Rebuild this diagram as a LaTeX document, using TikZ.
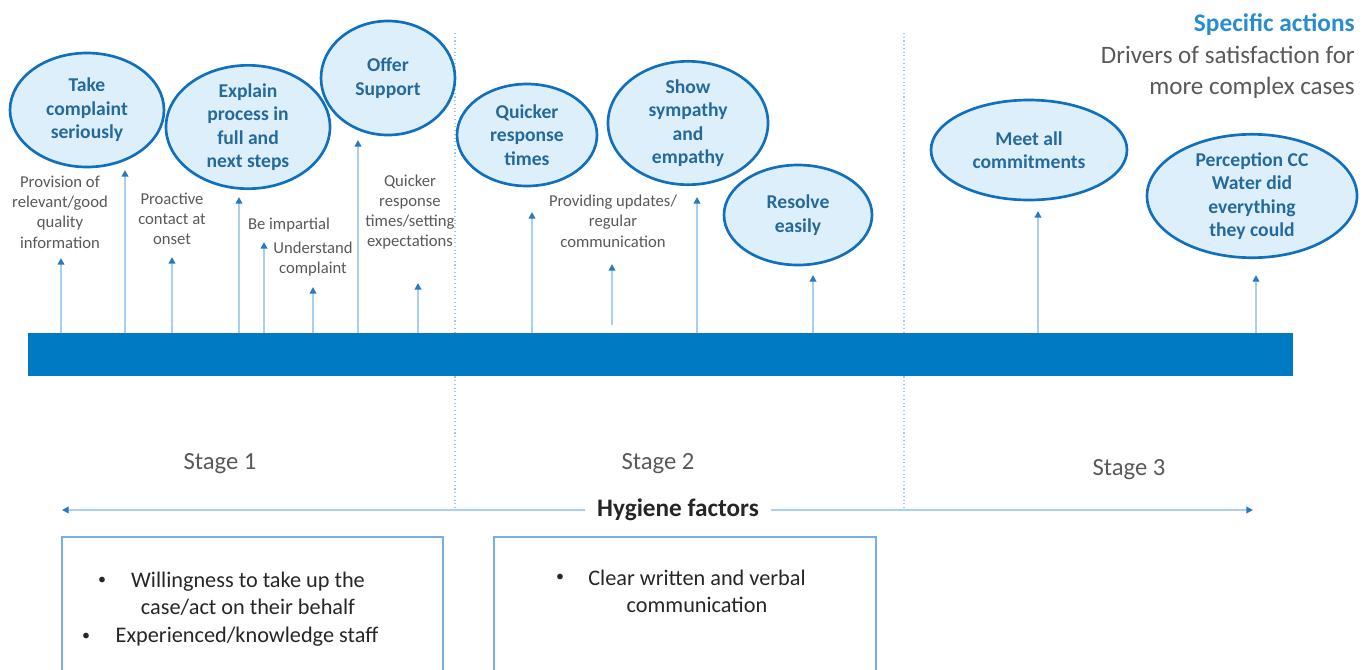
\documentclass[tikz,border=0pt]{standalone}
\usepackage{fontspec}
\setmainfont{Carlito}
\usetikzlibrary{shapes.geometric,arrows.meta}
\definecolor{barblue}{RGB}{0,123,195}
\definecolor{ringblue}{RGB}{16,112,190}
\definecolor{ellfill}{RGB}{222,239,252}
\definecolor{elltext}{RGB}{38,106,156}
\definecolor{stemblue}{RGB}{170,208,240}
\definecolor{tipblue}{RGB}{40,122,192}
\definecolor{greytext}{RGB}{89,89,89}
\definecolor{darktext}{RGB}{38,38,38}
\definecolor{headblue}{RGB}{40,140,208}
\definecolor{boxline}{RGB}{120,175,220}
\definecolor{dotblue}{RGB}{160,200,232}
\begin{document}
\begin{tikzpicture}[x=0.75pt,y=-0.75pt,
  driver/.style={ellipse, draw=ringblue, line width=2pt, fill=ellfill, text=elltext,
    font=\fontsize{14.7}{17.6}\selectfont\bfseries, align=center, inner sep=0pt},
  note/.style={text=greytext, font=\fontsize{12.5}{15.2}\selectfont, align=center, inner sep=0pt, yshift=-1.2pt},
  stem/.style={draw=stemblue, line width=1.5pt, -{Triangle[width=5pt,length=5pt,color=tipblue]}},
  stagelabel/.style={text=greytext, font=\fontsize{18.5}{22}\selectfont, inner sep=0pt, yshift=-1.5pt},
  boxtext/.style={text=darktext, font=\fontsize{16.7}{20.2}\selectfont, align=center, inner sep=0pt},
  bullet/.style={text=darktext, font=\fontsize{12}{14}\selectfont, inner sep=0pt},
  divider/.style={draw=dotblue, line width=0.8pt, dotted},
  factorbox/.style={draw=boxline, line width=1pt}]
\useasboundingbox (0,0) rectangle (1370,669);
\clip (0,0) rectangle (1370,669);

% stage dividers
\coordinate (d1t) at (455,33);  \coordinate (d1b) at (455,510);
\coordinate (d2t) at (904,33);  \coordinate (d2b) at (904,510);
\draw[divider] (d1t) -- (d1b);
\draw[divider] (d2t) -- (d2b);

% timeline bar
\node[fill=barblue, inner sep=0pt, minimum width=948.75pt, minimum height=32.25pt,
  anchor=north west] (bar) at (28,333) {};

% stems rising from the bar
\foreach \i/\x/\ty/\by in {1/61/258/333, 2/125/170/333, 3/172/257/333, 4/239/197/333,
  5/264/242/333, 6/313/287/333, 7/358/140/333, 8/418/283/333, 9/532/212/333,
  10/612/264/325, 11/697/197/333, 12/813/275/333, 13/1038/211/333, 14/1256/275/333}{
  \coordinate (b\i) at (\x,\by);
  \coordinate (t\i) at (\x,\ty);
  \draw[stem] (b\i) -- (t\i);
}

% specific actions
\node[driver, minimum width=115.5pt, minimum height=85.5pt] (e1) at (87,110) {Take\\complaint\\seriously};
\node[driver, minimum width=123pt, minimum height=84pt] (e2) at (248,127) {Explain\\process in\\full and\\next steps};
\node[driver, minimum width=100.5pt, minimum height=85.5pt] (e3) at (388,78) {Offer\\Support};
\node[driver, minimum width=105pt, minimum height=76.5pt] (e4) at (527,135) {Quicker\\response\\times};
\node[driver, minimum width=120pt, minimum height=84pt] (e5) at (688,123) {Show\\sympathy\\and\\empathy};
\node[driver, minimum width=111pt, minimum height=75pt] (e6) at (798,215) {Resolve\\easily};
\node[driver, minimum width=147pt, minimum height=75pt] (e7) at (1029,150) {Meet all\\commitments};
\node[driver, minimum width=157.5pt, minimum height=88.5pt] (e8) at (1252,196) {Perception CC\\Water did\\everything\\they could};

% smaller drivers
\node[note] (n1) at (60,210.5) {Provision of\\relevant/good\\quality\\information};
\node[note] (n2) at (172,217) {Proactive\\contact at\\onset};
\node[note] (n3) at (289,223) {Be impartial};
\node[note] (n4) at (313,257.5) {Understand\\complaint};
\node[note] (n5) at (410,210.5) {Quicker\\response\\times/setting\\expectations};
\node[note] (n6) at (613,219.5) {Providing updates/\\regular\\communication};

% heading
\node[anchor=east, text=headblue, font=\fontsize{19}{23}\selectfont\bfseries, inner sep=0pt]
  (head) at (1355,25) {Specific actions};
\node[anchor=east, text=greytext, font=\fontsize{18.8}{23.25}\selectfont, align=right, inner sep=0pt]
  (sub) at (1355,72) {Drivers of satisfaction for\\more complex cases};

% stages
\node[stagelabel] (s1) at (220,462) {Stage 1};
\node[stagelabel] (s2) at (658,462) {Stage 2};
\node[stagelabel] (s3) at (1129,468) {Stage 3};

% hygiene factors span
\coordinate (hl) at (62,510);
\coordinate (hr) at (1253,510);
\draw[draw=stemblue, line width=1.5pt,
  {Triangle[width=5pt,length=5pt,color=tipblue]}-{Triangle[width=5pt,length=5pt,color=tipblue]}]
  (hl) -- (hr);
\node[fill=white, text=darktext, font=\fontsize{18.9}{22}\selectfont\bfseries, inner xsep=9pt, inner ysep=3pt]
  (hyg) at (678,510) {Hygiene factors};

% hygiene factor boxes
\coordinate (bx1a) at (62,537);  \coordinate (bx1b) at (443,690);
\coordinate (bx2a) at (494,537); \coordinate (bx2b) at (876,690);
\draw[factorbox] (bx1a) rectangle (bx1b);
\draw[factorbox] (bx2a) rectangle (bx2b);

\node[bullet] (p1) at (102,581) {•};
\node[boxtext] (q1) at (248,594) {Willingness to take up the\\case/act on their behalf};
\node[bullet] (p2) at (86,637) {•};
\node[boxtext] (q2) at (247,637) {Experienced/knowledge\ staff};
\node[bullet] (p3) at (560,578) {•};
\node[boxtext] (q3) at (697,591) {Clear written and verbal\\communication};
\end{tikzpicture}
\end{document}
